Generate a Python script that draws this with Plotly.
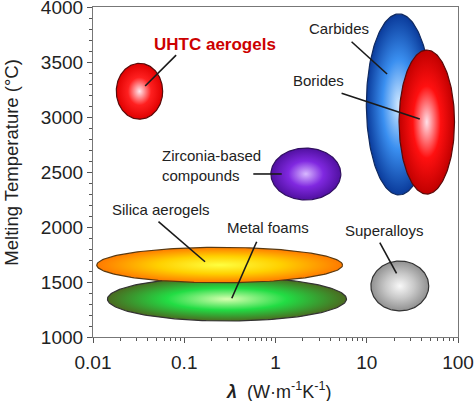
import numpy as np
import plotly.graph_objects as go

# ---- data: property envelopes (thermal conductivity range, melting temperature range)
materials = ["Metal foams", "Silica aerogels", "UHTC aerogels", "Zirconia-based compounds",
             "Carbides", "Borides", "Superalloys"]
lam_min = [0.0144, 0.011, 0.018, 0.89, 9.9, 22.6, 11.1]
lam_max = [6.0, 5.43, 0.058, 5.2, 51.0, 91.6, 47.8]
t_min = [1145, 1493, 2980, 2246, 2291, 2299, 1237]
t_max = [1545, 1815, 3488, 2718, 3937, 3609, 1691]

x_tickvals = [0.01, 0.1, 1, 10, 100]
x_ticktext = ["0.01", "0.1", "1", "10", "100"]
y_tickvals = [1000, 1500, 2000, 2500, 3000, 3500, 4000]

# ---- styles
center_col = ["#d8ffb0", "#ffff40", "#ffe8ee", "#d8b8ff", "#d0e8ff", "#ffe0e8", "#f8f8f8"]
mid_col = ["#22dd44", "#ffd000", "#ff2020", "#8028e0", "#3a8ff0", "#ff1010", "#c8c8c8"]
edge_col = ["#4a6a20", "#ff7a00", "#e00000", "#5010a0", "#0a3a9a", "#c00000", "#909090"]
line_col = ["#333", "#5a3a10", "#5a0a0a", "#301060", "#102a60", "#5a0a0a", "#333"]

# label annotations (text, x, y in data units, font color, bold, anchor)
labels = [
    ("UHTC aerogels", 0.218, 3663, "#cc0000", True, "center"),
    ("Carbides", 4.99, 3806, "#222", False, "center"),
    ("Borides", 2.99, 3336, "#222", False, "center"),
    ("Zirconia-based<br>compounds", 0.0544, 2563, "#222", False, "left"),
    ("Silica aerogels", 0.0558, 2161, "#222", False, "center"),
    ("Metal foams", 0.828, 1997, "#222", False, "center"),
    ("Superalloys", 15.6, 1966, "#222", False, "center"),
]
# leader lines (x0, y0, x1, y1) in data units
leaders = [
    (0.0815, 3563, 0.0373, 3282),
    (6.82, 3684, 16.7, 3391),
    (5.30, 3215, 38.1, 2982),
    (0.571, 2482, 1.17, 2482),
    (0.0522, 2048, 0.169, 1684),
    (0.622, 1866, 0.332, 1352),
    (13.9, 1857, 21.2, 1579),
]

fig = go.Figure()
t = np.linspace(0, 2 * np.pi, 181)
for i, name in enumerate(materials):
    u0 = (np.log10(lam_min[i]) + np.log10(lam_max[i])) / 2
    a = (np.log10(lam_max[i]) - np.log10(lam_min[i])) / 2
    y0 = (t_min[i] + t_max[i]) / 2
    b = (t_max[i] - t_min[i]) / 2
    xs = 10 ** (u0 + a * np.cos(t))
    ys = y0 + b * np.sin(t)
    fig.add_trace(go.Scatter(
        x=xs, y=ys, mode="lines", fill="toself", name=name,
        line=dict(color=line_col[i], width=1.2),
        fillgradient=dict(type="radial",
                          colorscale=[[0, center_col[i]], [0.5, mid_col[i]], [1, edge_col[i]]]),
        hoverinfo="name", showlegend=False))

for (x0, y0, x1, y1) in leaders:
    fig.add_trace(go.Scatter(x=[x0, x1], y=[y0, y1], mode="lines",
                             line=dict(color="#1a1a1a", width=1.6),
                             hoverinfo="skip", showlegend=False))

font_family = "Arial, Liberation Sans, sans-serif"
for (txt, x, y, col, bold, align) in labels:
    fig.add_annotation(x=np.log10(x), y=y, text=("<b>%s</b>" % txt) if bold else txt,
                       showarrow=False, xanchor=align, align=align,
                       font=dict(family=font_family, size=17 if bold else 15, color=col))

# axis titles as paper annotations for exact placement
fig.add_annotation(xref="paper", yref="paper", x=0.507, y=-0.161, showarrow=False,
                   xanchor="center", yanchor="middle",
                   text="<b><i>λ</i></b>  (W·m<sup>-1</sup>K<sup>-1</sup>)",
                   font=dict(family=font_family, size=18, color="#222"))
fig.add_annotation(xref="paper", yref="paper", x=-0.224, y=0.529, showarrow=False,
                   xanchor="center", yanchor="middle", textangle=-90,
                   text="Melting Temperature (°C)",
                   font=dict(family=font_family, size=18.5, color="#222"))

fig.update_layout(
    width=474, height=401,
    margin=dict(l=93, r=16, t=7, b=64, autoexpand=False),
    paper_bgcolor="white", plot_bgcolor="white",
    font=dict(family=font_family, color="#222"),
)
fig.update_xaxes(
    type="log", range=[-2, 2], tickvals=x_tickvals, ticktext=x_ticktext,
    automargin=False,
    showgrid=False, zeroline=False, showline=True, linecolor="#777", linewidth=1.2,
    mirror=True, ticks="outside", ticklen=5, tickcolor="#555", ticklabelstandoff=3,
    ticklabeloverflow="allow",
    tickfont=dict(size=19, color="#222"),
    minor=dict(ticks="outside", ticklen=3, tickcolor="#555", dtick="D1", showgrid=False),
)
fig.update_yaxes(
    range=[1000, 4000], tickvals=y_tickvals, ticktext=[str(v) for v in y_tickvals],
    automargin=False, ticklabeloverflow="allow",
    showgrid=False, zeroline=False, showline=True, linecolor="#777", linewidth=1.2,
    mirror=True, ticks="outside", ticklen=5, tickcolor="#555",
    tickfont=dict(size=19, color="#222"),
    minor=dict(ticks="outside", ticklen=3, tickcolor="#555", dtick=100, showgrid=False),
)

fig.write_html("out.html")
